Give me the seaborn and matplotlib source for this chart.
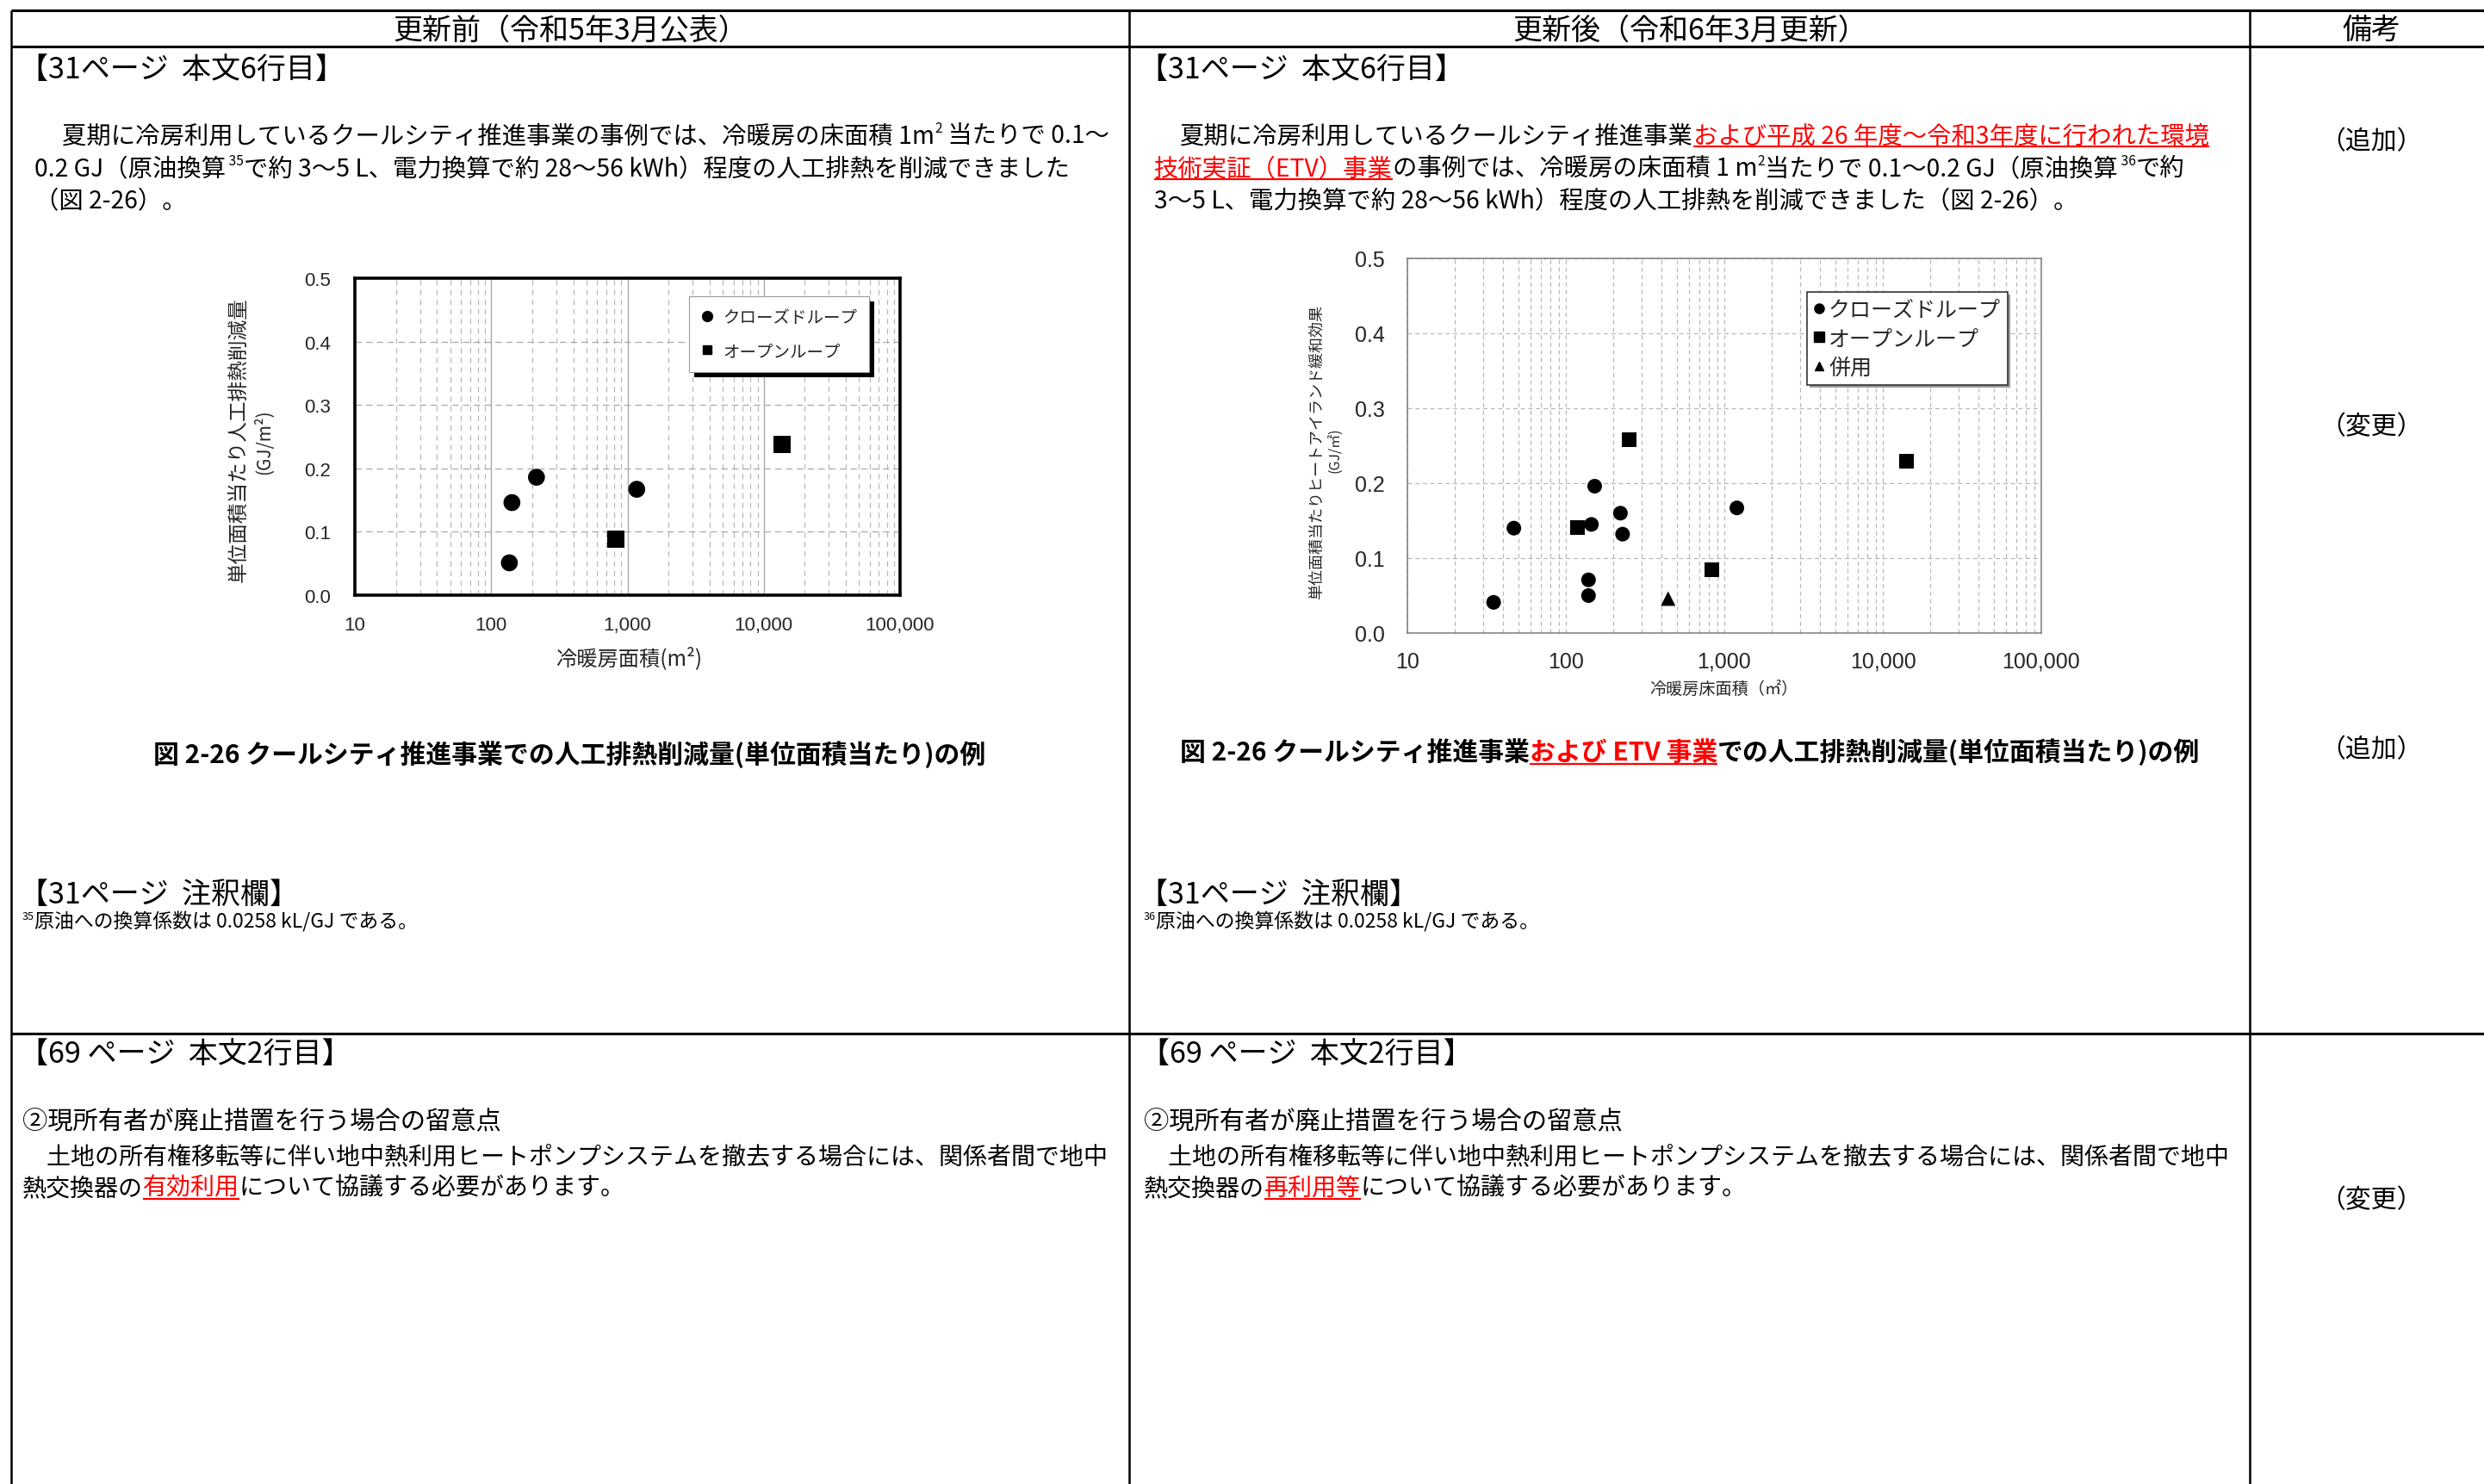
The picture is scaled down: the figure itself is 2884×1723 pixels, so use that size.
import numpy as np
import pandas as pd
import matplotlib
matplotlib.use("Agg")
import matplotlib.pyplot as plt
import seaborn as sns
from matplotlib.lines import Line2D
from matplotlib.patches import Rectangle
from matplotlib.transforms import IdentityTransform
from matplotlib.ticker import LogLocator, NullFormatter
from matplotlib import font_manager

# ---------------- data ----------------
categories = ["クローズドループ", "オープンループ", "併用"]

before_closed_area = [136, 142, 215, 1170]
before_closed_value = [0.051, 0.146, 0.186, 0.167]
before_open_area = [820, 13600]
before_open_value = [0.088, 0.238]

after_closed_area = [35, 47, 139, 139, 145, 152, 221, 228, 1200]
after_closed_value = [0.041, 0.140, 0.050, 0.071, 0.145, 0.196, 0.160, 0.132, 0.167]
after_open_area = [119, 250, 835, 14100]
after_open_value = [0.141, 0.258, 0.084, 0.229]
after_combined_area = [442]
after_combined_value = [0.046]

x_ticks = [10, 100, 1000, 10000, 100000]
x_tick_labels = ["10", "100", "1,000", "10,000", "100,000"]
y_ticks = [0.0, 0.1, 0.2, 0.3, 0.4, 0.5]
y_tick_labels = ["0.0", "0.1", "0.2", "0.3", "0.4", "0.5"]

# ---------------- setup ----------------
sns.set_theme(style="white")
plt.rcParams["font.family"] = ["Noto Sans CJK JP", "DejaVu Sans"]

W, H, DPI = 2884, 1724, 100
fig = plt.figure(figsize=(W / DPI, H / DPI), dpi=DPI)
fig.patch.set_facecolor("white")
renderer = fig.canvas.get_renderer()

names = {f.name for f in font_manager.fontManager.ttflist}
if "Liberation Sans" in names:
    num_fp = dict(family="Liberation Sans")
else:
    num_fp = dict(family="DejaVu Sans")


def fx(x):
    return x / W


def fy(y):
    return 1 - y / H


def hline(x0, x1, y, lw=1.8, color="black"):
    fig.add_artist(Line2D([x0, x1], [H - y, H - y], transform=IdentityTransform(),
                          color=color, lw=lw, solid_capstyle="butt"))


def vline(x, y0, y1, lw=1.8, color="black"):
    fig.add_artist(Line2D([x, x], [H - y0, H - y1], transform=IdentityTransform(),
                          color=color, lw=lw, solid_capstyle="butt"))


def runs_text(x, yc, runs, size, weight="normal", align="left"):
    """runs: list of (text, color, underline, superscript)"""
    px = size * DPI / 72.0
    base = yc + 0.36 * px
    texts = []
    cx = 0.0
    for r in runs:
        s = r[0]
        color = r[1] if len(r) > 1 else "black"
        ul = r[2] if len(r) > 2 else False
        sup = r[3] if len(r) > 3 else False
        fs = size * 0.55 if sup else size
        yy = base - 0.42 * px if sup else base
        t = fig.text(0, fy(yy), s, fontsize=fs, color=color, weight=weight,
                     ha="left", va="baseline")
        bb = t.get_window_extent(renderer)
        texts.append((t, cx, bb.width, ul, color))
        cx += bb.width
    total = cx
    x0 = x - total / 2 if align == "center" else x
    for t, off, w, ul, color in texts:
        t.set_x(fx(x0 + off))
        if ul:
            uy = base + 0.17 * px
            hline(x0 + off, x0 + off + w, uy, lw=1.6, color=color)
    return total


# ---------------- table ----------------
hline(13, W, 13, lw=2.2)
hline(13, W, 55, lw=2.2)
hline(13, W, 1201, lw=2.2)
vline(13, 13, H)
vline(1311, 13, H)
vline(2612, 13, H)

HEAD = 24.5
BODY = 20.4
runs_text(662, 33, [("更新前（令和5年3月公表）",)], HEAD, align="center")
runs_text(1962, 33, [("更新後（令和6年3月更新）",)], HEAD, align="center")
runs_text(2753, 33, [("備考",)], HEAD, align="center")

RED = "#ff0000"

# row 1 left
runs_text(22, 80, [("【31ページ  本文6行目】",)], HEAD)
runs_text(72, 156, [("夏期に冷房利用しているクールシティ推進事業の事例では、冷暖房の床面積 1m",),
                    ("2", "black", False, True), (" 当たりで 0.1～",)], BODY)
runs_text(40, 194, [("0.2 GJ（原油換算",), (" 35", "black", False, True),
                    ("で約 3～5 L、電力換算で約 28～56 kWh）程度の人工排熱を削減できました",)], BODY)
runs_text(40, 231, [("（図 2-26）。",)], BODY)

# row 1 right
runs_text(1322, 80, [("【31ページ  本文6行目】",)], HEAD)
runs_text(1370, 156, [("夏期に冷房利用しているクールシティ推進事業",),
                      ("および平成 26 年度～令和3年度に行われた環境", RED, True)], BODY)
runs_text(1340, 194, [("技術実証（ETV）事業", RED, True),
                      ("の事例では、冷暖房の床面積 1 m",), ("2", "black", False, True),
                      ("当たりで 0.1～0.2 GJ（原油換算",), (" 36", "black", False, True), ("で約",)], BODY)
runs_text(1340, 231, [("3～5 L、電力換算で約 28～56 kWh）程度の人工排熱を削減できました（図 2-26）。",)], BODY)

# captions
runs_text(661, 875, [("図 2-26 クールシティ推進事業での人工排熱削減量(単位面積当たり)の例",)],
          21.5, weight="bold", align="center")
runs_text(1962, 872, [("図 2-26 クールシティ推進事業",), ("および ETV 事業", RED, True),
                      ("での人工排熱削減量(単位面積当たり)の例",)], 21.5, weight="bold", align="center")

# notes
runs_text(22, 1037, [("【31ページ  注釈欄】",)], HEAD)
runs_text(26, 1069, [("35", "black", False, True), ("原油への換算係数は 0.0258 kL/GJ である。",)], 16.5)
runs_text(1322, 1037, [("【31ページ  注釈欄】",)], HEAD)
runs_text(1328, 1069, [("36", "black", False, True), ("原油への換算係数は 0.0258 kL/GJ である。",)], 16.5)

# remarks
runs_text(2753, 162, [("（追加）",)], 21.5, align="center")
runs_text(2753, 493, [("（変更）",)], 21.5, align="center")
runs_text(2753, 868, [("（追加）",)], 21.5, align="center")
runs_text(2753, 1391, [("（変更）",)], 21.5, align="center")

# row 2
for (x0, red_word) in [(0, "有効利用"), (1302, "再利用等")]:
    runs_text(22 + x0, 1223, [("【69 ページ  本文2行目】",)], HEAD)
    runs_text(26 + x0, 1301, [("②現所有者が廃止措置を行う場合の留意点",)], 21.1)
    runs_text(26 + x0, 1341, [("　土地の所有権移転等に伴い地中熱利用ヒートポンプシステムを撤去する場合には、関係者間で地中",)], 20.2)
    runs_text(26 + x0, 1378, [("熱交換器の",), (red_word, RED, True), ("について協議する必要があります。",)], 20.2)

# ---------------- charts ----------------
def make_axes(x0, x1, top, bottom):
    return fig.add_axes([x0 / W, 1 - bottom / H, (x1 - x0) / W, (bottom - top) / H])


df_before = pd.DataFrame({
    "area": before_closed_area + before_open_area,
    "value": before_closed_value + before_open_value,
    "type": [categories[0]] * len(before_closed_area) + [categories[1]] * len(before_open_area),
})
df_after = pd.DataFrame({
    "area": after_closed_area + after_open_area + after_combined_area,
    "value": after_closed_value + after_open_value + after_combined_value,
    "type": [categories[0]] * len(after_closed_area) + [categories[1]] * len(after_open_area)
            + [categories[2]] * len(after_combined_area),
})

# Left chart (before)
ax1 = make_axes(412, 1045, 324, 692)
sns.scatterplot(data=df_before, x="area", y="value", style="type",
                markers={categories[0]: "o", categories[1]: "s"},
                style_order=categories[:2], color="black", edgecolor="black",
                s=200, linewidth=0, ax=ax1, legend=False, zorder=3)
ax1.set_xscale("log")
ax1.set_xlim(10, 100000)
ax1.set_ylim(0, 0.5)
ax1.set_xticks(x_ticks)
ax1.set_xticklabels(x_tick_labels, fontsize=16, **num_fp)
ax1.set_yticks(y_ticks)
ax1.set_yticklabels(y_tick_labels, fontsize=16, **num_fp)
ax1.xaxis.set_minor_locator(LogLocator(base=10, subs=np.arange(2, 10)))
ax1.xaxis.set_minor_formatter(NullFormatter())
ax1.set_axisbelow(True)
ax1.grid(which="major", axis="x", color="#a8a8a8", lw=1.0, ls="-")
ax1.grid(which="minor", axis="x", color="#b8b8b8", lw=0.9, ls=(0, (5, 4)))
ax1.grid(which="major", axis="y", color="#a8a8a8", lw=0.9, ls=(0, (6, 4)))
ax1.tick_params(which="both", length=0)
ax1.tick_params(axis="x", pad=17)
ax1.tick_params(axis="y", pad=20)
for sp in ax1.spines.values():
    sp.set_linewidth(2.6)
    sp.set_color("black")
    sp.set_visible(True)
ax1.set_xlabel("")
ax1.set_ylabel("")

fig.text(fx(730), fy(765), "冷暖房面積(m²)", fontsize=17.5, ha="center", va="center")
fig.text(fx(277), fy(511), "単位面積当たり人工排熱削減量", fontsize=17, rotation=90,
         ha="center", va="center")
fig.text(fx(306), fy(513), "(GJ/m²)", fontsize=15, rotation=90, ha="center", va="center")

h1 = [Line2D([], [], marker="o", ls="none", color="black", markersize=8.5),
      Line2D([], [], marker="s", ls="none", color="black", markersize=7.5)]
leg1 = ax1.legend(h1, categories[:2], loc="upper left",
                  bbox_to_anchor=(800 / W, 1 - 345 / H), bbox_transform=fig.transFigure,
                  frameon=True, fancybox=False, framealpha=1, edgecolor="#9a9a9a",
                  fontsize=14, handlelength=0.8, handletextpad=0.5, borderpad=0.7,
                  labelspacing=0.95, borderaxespad=0)
leg1.get_frame().set_linewidth(0.8)
leg1.set_zorder(6)
bb = leg1.get_window_extent(renderer)
ax1.add_patch(Rectangle((bb.x0 + 6, bb.y0 - 6), bb.width, bb.height,
                        transform=IdentityTransform(), facecolor="black",
                        edgecolor="none", zorder=5, clip_on=False))

# Right chart (after)
ax2 = make_axes(1634, 2370, 301, 736)
sns.scatterplot(data=df_after, x="area", y="value", style="type",
                markers={categories[0]: "o", categories[1]: "s", categories[2]: "^"},
                style_order=categories, color="black", edgecolor="black",
                s=150, linewidth=0, ax=ax2, legend=False, zorder=3)
ax2.set_xscale("log")
ax2.set_xlim(10, 100000)
ax2.set_ylim(0, 0.5)
ax2.set_xticks(x_ticks)
ax2.set_xticklabels(x_tick_labels, fontsize=18, **num_fp)
ax2.set_yticks(y_ticks)
ax2.set_yticklabels(y_tick_labels, fontsize=18, **num_fp)
ax2.xaxis.set_minor_locator(LogLocator(base=10, subs=np.arange(2, 10)))
ax2.xaxis.set_minor_formatter(NullFormatter())
ax2.set_axisbelow(True)
ax2.grid(which="both", axis="x", color="#b8b8b8", lw=0.9, ls=(0, (4, 3)))
ax2.grid(which="major", axis="y", color="#b8b8b8", lw=0.9, ls=(0, (4, 3)))
ax2.tick_params(which="both", length=0)
ax2.tick_params(axis="x", pad=15)
ax2.tick_params(axis="y", pad=19)
for sp in ax2.spines.values():
    sp.set_linewidth(1.1)
    sp.set_color("#7a7a7a")
    sp.set_visible(True)
ax2.set_xlabel("")
ax2.set_ylabel("")

fig.text(fx(2001), fy(800), "冷暖房床面積（㎡）", fontsize=13.8, ha="center", va="center")
fig.text(fx(1529), fy(525), "単位面積当たりヒートアイランド緩和効果", fontsize=13, rotation=90,
         ha="center", va="center")
fig.text(fx(1551), fy(523), "(GJ/㎡)", fontsize=11.5, rotation=90, ha="center", va="center")

h2 = [Line2D([], [], marker="o", ls="none", color="black", markersize=8),
      Line2D([], [], marker="s", ls="none", color="black", markersize=8),
      Line2D([], [], marker="^", ls="none", color="black", markersize=7.5)]
leg2 = ax2.legend(h2, categories, loc="upper left",
                  bbox_to_anchor=(2098 / W, 1 - 340 / H), bbox_transform=fig.transFigure,
                  frameon=True, fancybox=False, framealpha=1, edgecolor="#333333",
                  fontsize=18, handlelength=0.5, handletextpad=0.2, borderpad=0.3,
                  labelspacing=0.3, borderaxespad=0)
leg2.get_frame().set_linewidth(1.2)
leg2.set_zorder(6)
bb2 = leg2.get_window_extent(renderer)
ax2.add_patch(Rectangle((bb2.x0 + 3, bb2.y0 - 3), bb2.width, bb2.height,
                        transform=IdentityTransform(), facecolor="#9a9a9a",
                        edgecolor="none", zorder=5, clip_on=False))

fig.savefig("out.png", dpi=DPI, facecolor="white")
